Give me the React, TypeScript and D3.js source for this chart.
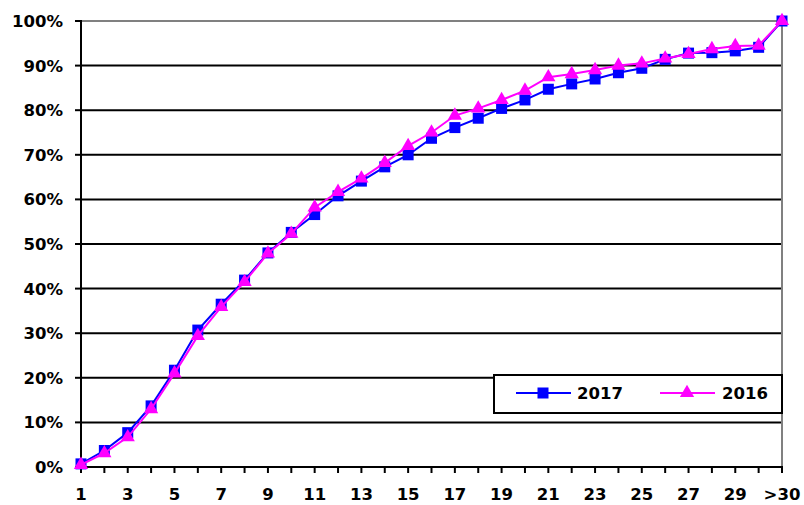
import React from "react";
import * as d3 from "d3";

const categories = ["1","2","3","4","5","6","7","8","9","10","11","12","13","14","15","16","17","18","19","20","21","22","23","24","25","26","27","28","29","30",">30"];
const tickLabels = ["1","3","5","7","9","11","13","15","17","19","21","23","25","27","29",">30"];
const series2017 = [0.7,3.7,7.7,13.7,21.7,30.7,36.5,41.9,48.0,52.6,56.6,60.8,64.1,67.3,70.0,73.7,76.1,78.2,80.4,82.3,84.7,85.9,87.0,88.4,89.4,91.4,92.8,92.9,93.3,94.1,100];
const series2016 = [0.5,3.1,6.7,13.0,21.0,29.4,35.9,41.5,47.9,52.3,58.2,61.7,64.7,68.2,72.0,75.0,78.8,80.4,82.3,84.4,87.4,88.1,89.0,90.0,90.5,91.6,92.6,93.7,94.4,94.5,100];
const yTicks = [0,10,20,30,40,50,60,70,80,90,100];

const W = 804, H = 505;
const left = 81, right = 782, top = 21, bottom = 467;
const FONT = "'DejaVu Sans', sans-serif";
const FS = 16.5;
const SQ = 11;

export default function App() {
  const x = d3.scalePoint<string>().domain(categories).range([left, right]).padding(0);
  const y = d3.scaleLinear().domain([0, 100]).range([bottom, top]);
  const line = d3.line<number>().x((_, i) => x(categories[i])!).y(d => y(d));
  const tri = d3.symbol().type(d3.symbolTriangle).size(88)()!;

  return (
    <svg width={W} height={H} style={{ position: "absolute", left: 0, top: 0, background: "#fff" }}>
      {yTicks.filter(t => t > 0 && t < 100).map(t => (
        <line key={t} x1={left} x2={right} y1={y(t)} y2={y(t)} stroke="#000" strokeWidth={2} />
      ))}
      <line x1={left} x2={right} y1={y(100)} y2={y(100)} stroke="#808080" strokeWidth={2} />
      <line x1={right} x2={right} y1={top} y2={bottom} stroke="#808080" strokeWidth={2} />
      <line x1={left} x2={left} y1={top - 1} y2={bottom + 1} stroke="#000" strokeWidth={2} />
      <line x1={left} x2={right + 1} y1={bottom} y2={bottom} stroke="#000" strokeWidth={2} />
      {yTicks.map(t => (
        <g key={t}>
          <line x1={left - 6} x2={left} y1={y(t)} y2={y(t)} stroke="#000" strokeWidth={2} />
          <text x={63} y={y(t)} dy="0.36em" textAnchor="end" fontFamily={FONT} fontWeight="bold" fontSize={FS} fill="#000">{t}%</text>
        </g>
      ))}
      {categories.map(c => (
        <line key={c} x1={x(c)} x2={x(c)} y1={bottom} y2={bottom + 6} stroke="#000" strokeWidth={2} />
      ))}
      {tickLabels.map(c => (
        <text key={c} x={x(c)} y={500} textAnchor="middle" fontFamily={FONT} fontWeight="bold" fontSize={FS} fill="#000">{c}</text>
      ))}
      <path d={line(series2017)!} fill="none" stroke="#0000FF" strokeWidth={2} />
      {series2017.map((v, i) => (
        <rect key={i} x={x(categories[i])! - SQ / 2} y={y(v) - SQ / 2} width={SQ} height={SQ} fill="#0000FF" />
      ))}
      <path d={line(series2016)!} fill="none" stroke="#FF00FF" strokeWidth={2} />
      {series2016.map((v, i) => (
        <path key={i} d={tri} transform={`translate(${x(categories[i])},${y(v)})`} fill="#FF00FF" />
      ))}
      <rect x={494} y={375} width={288} height={38} fill="#fff" stroke="#000" strokeWidth={2} />
      <line x1={516} x2={571} y1={393} y2={393} stroke="#0000FF" strokeWidth={2} />
      <rect x={543 - SQ / 2} y={393 - SQ / 2} width={SQ} height={SQ} fill="#0000FF" />
      <text x={577} y={393} dy="0.36em" fontFamily={FONT} fontWeight="bold" fontSize={FS} fill="#000">2017</text>
      <line x1={660} x2={715} y1={393} y2={393} stroke="#FF00FF" strokeWidth={2} />
      <path d={tri} transform="translate(687,393)" fill="#FF00FF" />
      <text x={722} y={393} dy="0.36em" fontFamily={FONT} fontWeight="bold" fontSize={FS} fill="#000">2016</text>
    </svg>
  );
}
